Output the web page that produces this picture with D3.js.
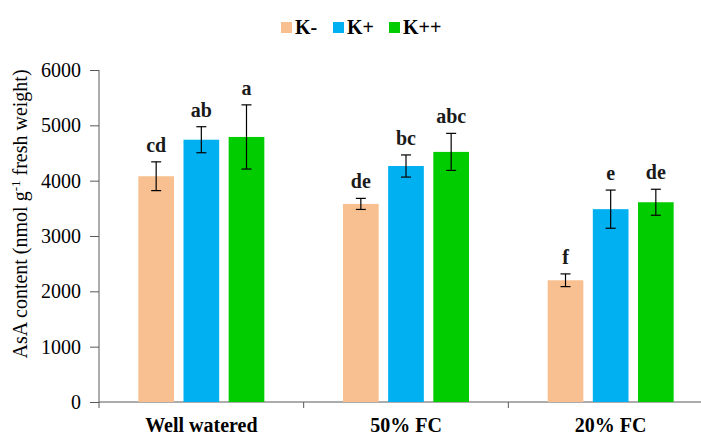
<!DOCTYPE html>
<html>
<head>
<meta charset="utf-8">
<script src="https://cdn.jsdelivr.net/npm/d3@7"></script>
<style>
body { margin: 0; background: #fff; }
svg { display: block; }
</style>
</head>
<body>
<div id="chart"></div>
<script>
const categories = ["Well watered", "50% FC", "20% FC"];
const seriesNames = ["K-", "K+", "K++"];
const colors = ["#F8C090", "#00B0F0", "#00CC00"];
const valuesKminus = [4080, 3580, 2200];
const valuesKplus = [4740, 4265, 3485];
const valuesKplusplus = [4790, 4520, 3610];
const errKminus = [260, 100, 115];
const errKplus = [235, 200, 345];
const errKplusplus = [580, 335, 235];
const lettersKminus = ["cd", "de", "f"];
const lettersKplus = ["ab", "bc", "e"];
const lettersKplusplus = ["a", "abc", "de"];
const yTicks = [0, 1000, 2000, 3000, 4000, 5000, 6000];

const values = [valuesKminus, valuesKplus, valuesKplusplus];
const errs = [errKminus, errKplus, errKplusplus];
const letters = [lettersKminus, lettersKplus, lettersKplusplus];

const W = 701, H = 435;
const mLeft = 99, mRight = 713, mTop = 70, mBottom = 402;
const serif = "'Liberation Serif', 'Times New Roman', serif";
const axisColor = "#595959";

const svg = d3.select("#chart").append("svg").attr("width", W).attr("height", H);

const x0 = d3.scaleBand().domain(categories).range([mLeft, mRight]).padding(0);
const x1 = d3.scaleBand().domain(seriesNames).range([0, 126]).paddingInner(0.21).paddingOuter(0);
const y = d3.scaleLinear().domain([0, 6000]).range([mBottom, mTop]);

// Y axis
const yAxis = svg.append("g").attr("transform", `translate(${mLeft},0)`)
  .call(d3.axisLeft(y).tickValues(yTicks).tickSize(9).tickPadding(9).tickFormat(d3.format("d")));
yAxis.select(".domain").attr("stroke", axisColor).attr("d", `M0,${mTop}V${mBottom + 6}`);
yAxis.selectAll(".tick line").attr("stroke", axisColor);
yAxis.selectAll(".tick text").attr("font-family", serif).attr("font-size", 20).attr("fill", "#000");

// X axis
const xAxis = svg.append("g").attr("transform", `translate(0,${mBottom})`)
  .call(d3.axisBottom(x0).tickSize(0));
xAxis.select(".domain").attr("stroke", axisColor).attr("d", `M${mLeft},0H${mRight}`);
xAxis.selectAll(".tick text").attr("y", 30).attr("dy", null).attr("font-family", serif).attr("font-size", 20)
  .attr("font-weight", "bold").attr("fill", "#000");
// category separator ticks
svg.append("g").selectAll("line").data(categories.slice(1)).join("line")
  .attr("x1", d => x0(d)).attr("x2", d => x0(d))
  .attr("y1", mBottom).attr("y2", mBottom + 6).attr("stroke", axisColor);

// Bars
const groups = svg.append("g").selectAll("g").data(categories).join("g")
  .attr("transform", d => `translate(${x0(d) + (x0.bandwidth() - 126) / 2},0)`);

seriesNames.forEach((s, si) => {
  groups.append("rect")
    .attr("x", x1(s))
    .attr("width", x1.bandwidth())
    .attr("y", (d, ci) => y(values[si][ci]))
    .attr("height", (d, ci) => mBottom - y(values[si][ci]))
    .attr("fill", colors[si]);
});

// Error bars and letters
seriesNames.forEach((s, si) => {
  const cx = x1(s) + x1.bandwidth() / 2;
  groups.append("line")
    .attr("x1", cx).attr("x2", cx)
    .attr("y1", (d, ci) => y(values[si][ci] + errs[si][ci]))
    .attr("y2", (d, ci) => y(values[si][ci] - errs[si][ci]))
    .attr("stroke", "#000").attr("stroke-width", 1.2);
  [1, -1].forEach(sign => {
    groups.append("line")
      .attr("x1", cx - 5).attr("x2", cx + 5)
      .attr("y1", (d, ci) => y(values[si][ci] + sign * errs[si][ci]))
      .attr("y2", (d, ci) => y(values[si][ci] + sign * errs[si][ci]))
      .attr("stroke", "#000").attr("stroke-width", 1.2);
  });
  groups.append("text")
    .attr("x", cx)
    .attr("y", (d, ci) => y(values[si][ci] + errs[si][ci]) - 10)
    .attr("text-anchor", "middle")
    .attr("font-family", serif).attr("font-size", 20).attr("font-weight", "bold")
    .attr("fill", "#1a1a1a")
    .text((d, ci) => letters[si][ci]);
});

// Y label
svg.append("text")
  .attr("transform", `translate(27,${(mTop + mBottom) / 2 - 22}) rotate(-90)`)
  .attr("text-anchor", "middle")
  .attr("font-family", serif).attr("font-size", 20).attr("fill", "#000")
  .html("AsA content (nmol g<tspan dy='-7' font-size='13'>-1</tspan><tspan dy='7'> fresh weight)</tspan>");

// Legend
const legendX = [281, 333, 389];
const legend = svg.append("g");
seriesNames.forEach((s, si) => {
  legend.append("rect").attr("x", legendX[si]).attr("y", 22).attr("width", 11).attr("height", 11).attr("fill", colors[si]);
  legend.append("text").attr("x", legendX[si] + 14).attr("y", 34)
    .attr("font-family", serif).attr("font-size", 20).attr("font-weight", "bold").attr("fill", "#000")
    .text(s);
});
</script>
</body>
</html>
